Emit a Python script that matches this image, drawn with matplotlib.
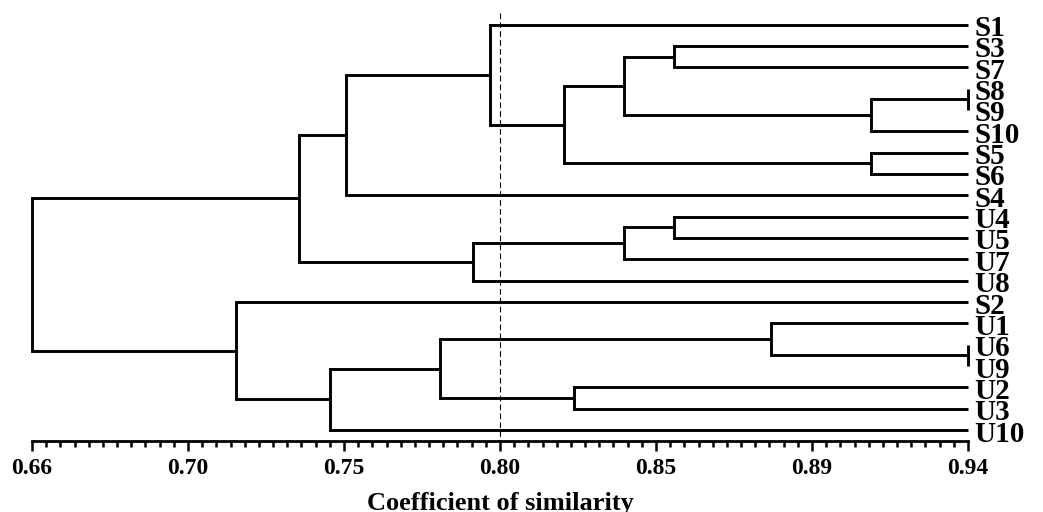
import matplotlib
matplotlib.use("Agg")
import matplotlib.pyplot as plt
import numpy as np

plt.rcParams['font.family'] = ['Liberation Serif', 'DejaVu Serif']
plt.rcParams['font.weight'] = 'bold'

# leaf order (top to bottom)
leaves = ["S1", "S3", "S7", "S8", "S9", "S10", "S5", "S6", "S4",
          "U4", "U5", "U7", "U8", "S2", "U1", "U6", "U9", "U2", "U3", "U10"]

# merges: (left, right, similarity); merge i is referred to as "c<i>"
merge_left = ["S8", "c0", "S3", "c2", "S5", "c3", "S1", "c6", "U4", "c8",
              "c9", "c7", "U6", "U1", "U2", "c13", "c15", "S2", "c11"]
merge_right = ["S9", "S10", "S7", "c1", "S6", "c4", "c5", "S4", "U5", "U7",
               "U8", "c10", "U9", "c12", "U3", "c14", "U10", "c16", "c17"]
merge_sim = [0.940, 0.911, 0.852, 0.837, 0.911, 0.819, 0.797, 0.754, 0.852, 0.837,
             0.792, 0.740, 0.940, 0.881, 0.822, 0.782, 0.749, 0.721, 0.660]

tick_vals = np.linspace(0.66, 0.94, 7)
tick_labels = ["0.66", "0.70", "0.75", "0.80", "0.85", "0.89", "0.94"]
cutoff = 0.80

fig = plt.figure(figsize=(10.43, 5.12), dpi=100)
ax = fig.add_axes([32 / 1043, 71 / 512, 936 / 1043, 431 / 512])

pos = {name: (0.94, i) for i, name in enumerate(leaves)}
for i, (a, b, s) in enumerate(zip(merge_left, merge_right, merge_sim)):
    xa, ya = pos[a]
    xb, yb = pos[b]
    ax.plot([xa, s, s, xb], [ya, ya, yb, yb], color='black', lw=2.1,
            solid_joinstyle='miter', solid_capstyle='butt', clip_on=False)
    pos["c%d" % i] = (s, (ya + yb) / 2)

for i, name in enumerate(leaves):
    ax.text(0.942, i + 0.05, name, fontsize=21, fontweight='bold',
            ha='left', va='center_baseline')

ax.vlines(cutoff, -0.54, 19.515, color='black', lw=0.8, linestyles=(0, (5, 3)))

ax.set_xlim(0.66, 0.94)
ax.set_ylim(19.515, -0.68)
for side in ['top', 'right', 'left']:
    ax.spines[side].set_visible(False)
ax.spines['bottom'].set_linewidth(2.0)
ax.set_yticks([])
ax.set_xticks(tick_vals)
ax.set_xticklabels(tick_labels, fontsize=17, fontweight='bold')
ax.set_xticks(np.linspace(0.66, 0.94, 67), minor=True)
ax.tick_params(axis='x', which='major', direction='out', length=7.5, width=1.8, pad=5)
ax.tick_params(axis='x', which='minor', direction='out', length=4, width=1.8)
ax.set_xlabel("Coefficient of similarity", fontsize=19, fontweight='bold', labelpad=9)

fig.savefig("out.png", dpi=100)
